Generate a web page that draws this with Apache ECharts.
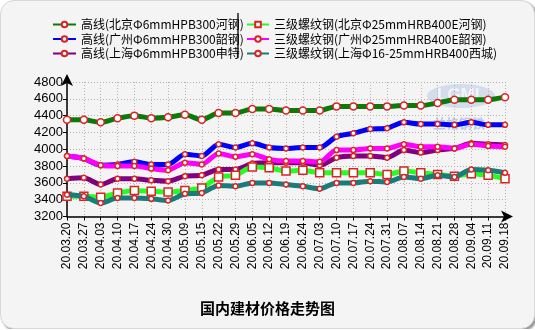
<!DOCTYPE html>
<html><head><meta charset="utf-8">
<script src="https://cdn.jsdelivr.net/npm/echarts@6/dist/echarts.min.js"></script>
<style>
html,body{margin:0;padding:0;background:#ffffff;}
#c{width:533px;height:327px;background:#f4f4f4;border-radius:14px;border:1px solid #d8d8d8;box-shadow:2px 2px 2px #9a9a9a;}
</style></head>
<body><div id="c"></div>
<script>
const categories = ['20.03.20','20.03.27','20.04.03','20.04.10','20.04.17','20.04.24','20.04.30','20.05.09','20.05.15','20.05.22','20.05.29','20.06.05','20.06.12','20.06.19','20.06.24','20.07.03','20.07.10','20.07.17','20.07.24','20.07.31','20.08.07','20.08.14','20.08.21','20.08.28','20.09.04','20.09.11','20.09.18'];
const names = ['高线(北京Φ6mmHPB300河钢)','高线(广州Φ6mmHPB300韶钢)','高线(上海Φ6mmHPB300申特)','三级螺纹钢(北京Φ25mmHRB400E河钢)','三级螺纹钢(广州Φ25mmHRB400E韶钢)','三级螺纹钢(上海Φ16-25mmHRB400西城)'];
const wireBeijing = [4350,4350,4320,4370,4400,4370,4380,4410,4350,4430,4430,4480,4480,4460,4460,4460,4510,4510,4510,4510,4520,4520,4550,4590,4590,4590,4620];
const wireGuangzhou = [3920,3890,3810,3820,3850,3820,3820,3940,3920,4060,4020,4070,4020,4010,4020,4020,4150,4190,4240,4250,4320,4300,4300,4290,4320,4290,4290];
const wireShanghai = [3650,3660,3580,3650,3650,3630,3620,3680,3690,3760,3760,3830,3840,3840,3840,3810,3900,3920,3920,3900,3990,3960,3990,4010,4070,4060,4050];
const rebarBeijing = [3440,3440,3430,3480,3510,3500,3490,3510,3540,3670,3690,3790,3780,3740,3750,3720,3720,3720,3720,3700,3740,3720,3700,3680,3710,3690,3650];
const rebarGuangzhou = [3920,3890,3810,3800,3800,3770,3750,3840,3820,3950,3910,3940,3880,3860,3860,3850,3990,3990,4010,4010,4060,4030,4030,4010,4060,4040,4030];
const rebarShanghai = [3460,3440,3360,3420,3420,3410,3390,3470,3480,3570,3560,3600,3600,3580,3560,3530,3600,3600,3620,3610,3670,3650,3690,3670,3760,3750,3720];
const yTicks = {min:3200, max:4800, interval:200};
const title = '国内建材价格走势图';

const seriesData = [wireBeijing, wireGuangzhou, wireShanghai, rebarBeijing, rebarGuangzhou, rebarShanghai];
const colors = ['#0a7a0a','#0000ff','#800080','#22ff22','#ff00ff','#1a7b7b'];
const symbols = ['circle','circle','circle','rect','circle','circle'];
const symSizes = [7,5,5,8,5,5];

const chart = echarts.init(document.getElementById('c'));
const font = 'Arial, "Liberation Sans", sans-serif';
const cjk = '"Noto Sans CJK SC", sans-serif';
const legendText = {fontSize:12,color:'#000',fontFamily:cjk,lineHeight:13};
chart.setOption({
  animation:false,
  textStyle:{fontFamily:font},
  title:{text:title,left:'center',top:295,textStyle:{fontSize:15,fontWeight:'bold',color:'#000',fontFamily:cjk}},
  legend:[
    {data:names.slice(0,3),orient:'vertical',left:46,top:12,itemWidth:23,itemHeight:7,itemGap:1.5,textStyle:legendText},
    {data:names.slice(3),orient:'vertical',left:240,top:12,itemWidth:22,itemHeight:7,itemGap:1.5,textStyle:legendText}
  ],
  graphic:[
    {type:'line',shape:{x1:237,y1:12,x2:237,y2:57},style:{stroke:'#555',lineWidth:2}},
    {type:'ellipse',shape:{cx:460,cy:95,rx:34,ry:12},z:0,style:{fill:'rgba(120,150,210,0.25)'}},
    {type:'text',left:436,top:86,z:0,style:{text:'LGMI',fill:'rgba(255,255,255,0.7)',font:'bold 17px Arial'}},
    {type:'text',left:432,top:116,z:0,style:{text:'兰格钢铁',fill:'rgba(90,120,190,0.35)',font:'bold 13px "Noto Sans CJK SC"'}}
  ],
  grid:{left:66,right:29,top:81,bottom:111.5},
  xAxis:{type:'category',data:categories,boundaryGap:false,
    axisLine:{lineStyle:{color:'#000',width:1.5},symbol:['none','arrow'],symbolSize:[9,12],symbolOffset:[0,8]},
    axisTick:{show:true,inside:false,length:4,lineStyle:{color:'#000'}},
    axisLabel:{rotate:90,fontSize:12,color:'#000',margin:6,interval:0,fontFamily:font},
    splitLine:{show:true,lineStyle:{color:'#b4b4b4',type:[1,2],width:1}}},
  yAxis:{type:'value',min:yTicks.min,max:yTicks.max,interval:yTicks.interval,
    axisLine:{show:true,lineStyle:{color:'#000',width:1.5},symbol:['none','arrow'],symbolSize:[9,12],symbolOffset:[0,8]},
    axisTick:{show:true,length:4,lineStyle:{color:'#000'}},
    axisLabel:{fontSize:13,color:'#000',margin:4,fontFamily:font,formatter:v=>String(v)},
    splitLine:{show:true,lineStyle:{color:'#b4b4b4',type:[1,2],width:1}}},
  series: seriesData.map((d,i)=>({
    name:names[i],type:'line',data:d,smooth:0.25,
    symbol:symbols[i],symbolSize:symSizes[i],showSymbol:true,
    lineStyle:{color:colors[i],width:5},
    itemStyle:{color:'#ffffff',borderColor:'#dd2222',borderWidth:1.5},
    z:2+i
  }))
});
</script></body></html>
